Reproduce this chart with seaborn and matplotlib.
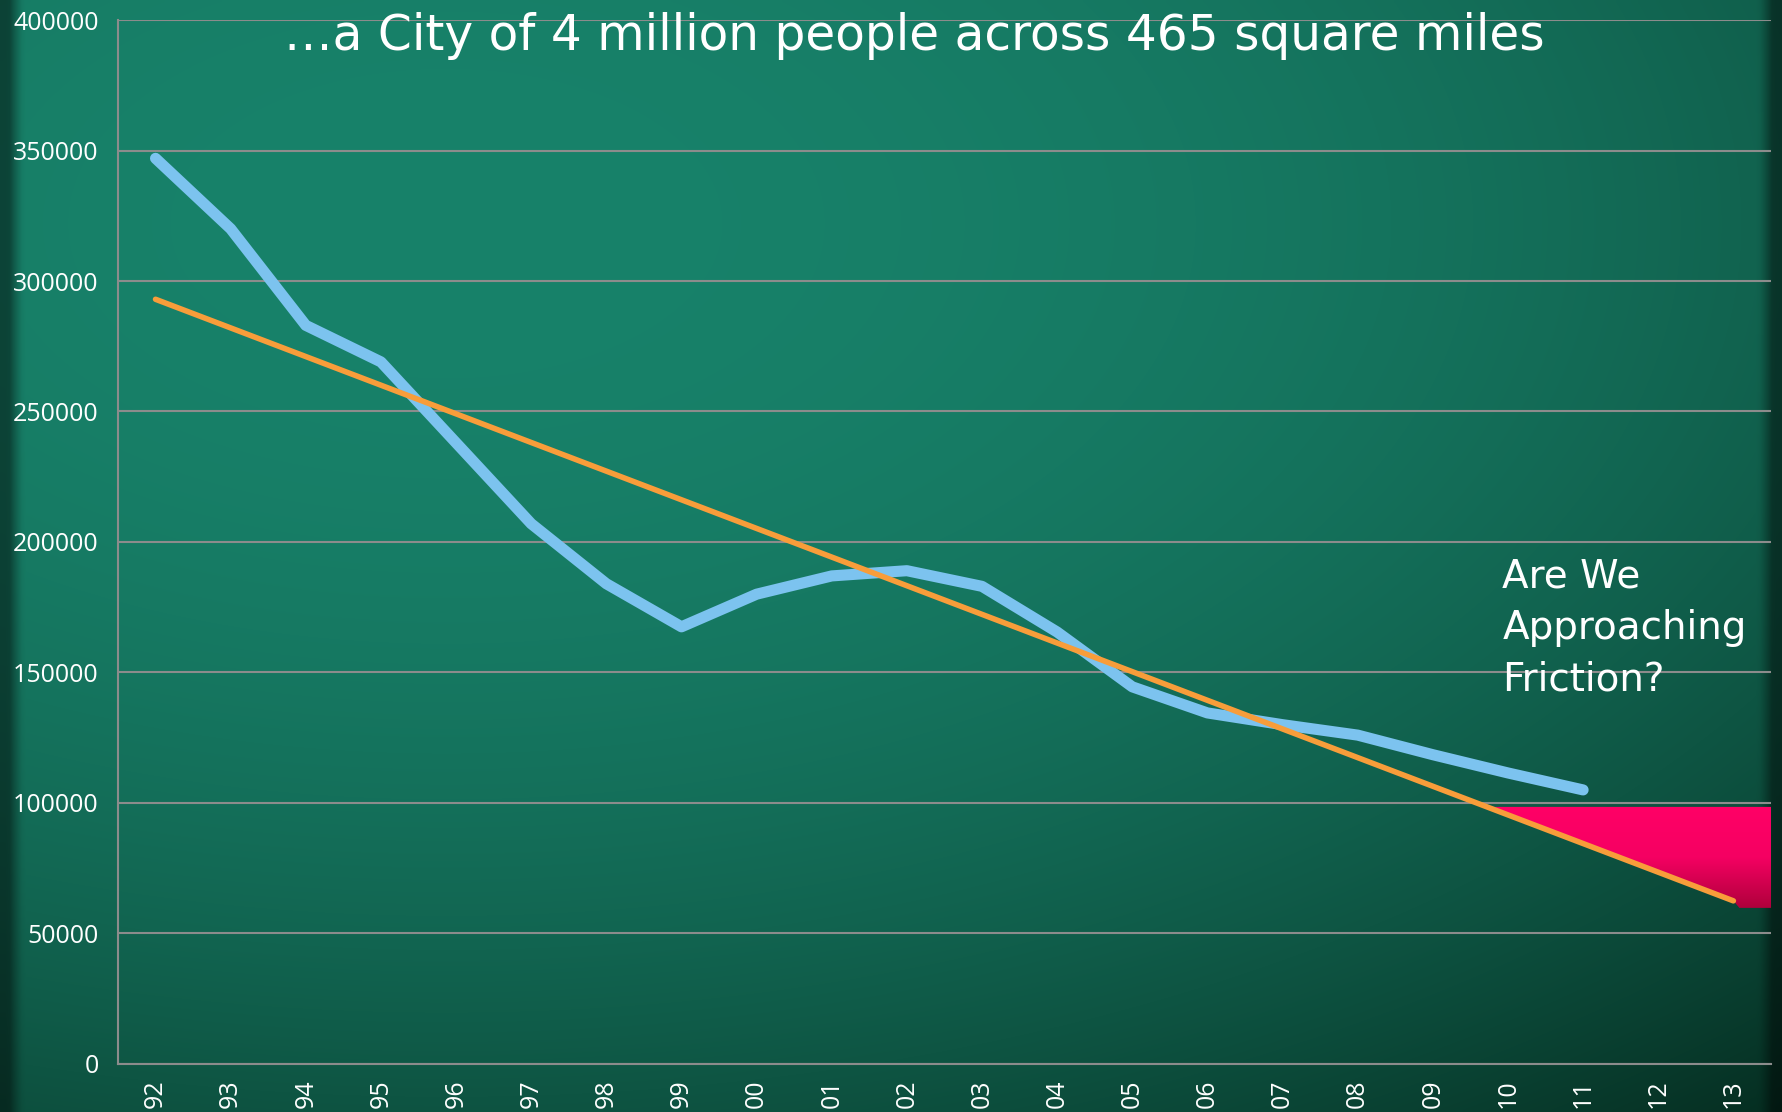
import numpy as np
import pandas as pd
import matplotlib
matplotlib.use("Agg")
import matplotlib.pyplot as plt
from matplotlib.patches import Polygon
from matplotlib.colors import LinearSegmentedColormap
import seaborn as sns

# ── Data ──────────────────────────────────────────────────────
years = ["92", "93", "94", "95", "96", "97", "98", "99", "00", "01", "02",
         "03", "04", "05", "06", "07", "08", "09", "10", "11", "12", "13"]
values = [347000, 320000, 283000, 269000, 238000, 207000, 184000, 167500,
          180000, 187000, 189000, 183000, 165500, 144500, 134500, 130000,
          126000, 118500, 111500, 105000]
trend_years = ["92", "13"]
trend_values = [293000, 62500]
yticks = [0, 50000, 100000, 150000, 200000, 250000, 300000, 350000, 400000]

red_top = 98500      # shaded "friction" wedge
red_bottom = 59800
red_right = 21.55

title = "…a City of 4 million people across 465 square miles"
note = "Are We\nApproaching\nFriction?"

BLUE = "#7cc3ef"
ORANGE = "#f89d3a"
GRID = "#8c8c8c"

# ── Figure + background ───────────────────────────────────────
sns.set_style("white")
plt.rcParams["font.family"] = ["Open Sans", "DejaVu Sans"]

fig = plt.figure(figsize=(17.82, 11.12), dpi=100)

bg_ax = fig.add_axes([0, 0, 1, 1], zorder=0)
h, w = 278, 446
u, v = np.meshgrid(np.linspace(0, 1, w), np.linspace(0, 1, h))
d = np.sqrt((u - 0.25) ** 2 + ((v - 0.2) / 0.9) ** 2)
t = (np.clip(d, 0, 1.2) / 1.2) ** 2.2
light = np.array([0x18, 0x82, 0x6a]) / 255
dark = np.array([0x04, 0x28, 0x1c]) / 255
img = light * (1 - t[..., None]) + dark * t[..., None]
edge = np.ones_like(u)
edge *= np.clip(u / 0.012, 0.35, 1) ** 0.6
edge *= np.clip((1 - u) / 0.012, 0.35, 1) ** 0.6
img = img * edge[..., None]
bg_ax.imshow(img, aspect="auto", extent=[0, 1, 0, 1], interpolation="bilinear")
bg_ax.axis("off")

ax = fig.add_axes([0.0662, 0.0432, 0.9276, 0.9388], zorder=1)
ax.set_facecolor("none")

x = np.arange(len(years))
df = pd.DataFrame({"x": x[:len(values)], "value": values})
tdf = pd.DataFrame({"x": [years.index(y) for y in trend_years], "value": trend_values})

sns.lineplot(data=df, x="x", y="value", ax=ax, color=BLUE, linewidth=8,
             solid_capstyle="round", solid_joinstyle="round", zorder=3)

# red wedge under the trend line
x0, x1 = tdf["x"]
y0, y1 = trend_values
x_cross = x0 + (red_top - y0) / (y1 - y0) * (x1 - x0)
wedge = Polygon([(x_cross, red_top), (red_right, red_top), (red_right, red_bottom),
                 (x1 + 0.08, red_bottom), (x1, y1)], closed=True,
                facecolor="none", edgecolor="none")
ax.add_patch(wedge)
red_cmap = LinearSegmentedColormap.from_list("red", ["#ff0066", "#f50062", "#b0003c"])
grad = np.linspace(0, 1, 100)[:, None] * np.ones((1, 10))
im = ax.imshow(grad, cmap=red_cmap, aspect="auto", zorder=2,
               extent=[x_cross, red_right, red_bottom, red_top], origin="upper")
im.set_clip_path(wedge)
im.set_clip_on(True)

sns.lineplot(data=tdf, x="x", y="value", ax=ax, color=ORANGE, linewidth=4,
             solid_capstyle="round", zorder=4)

# ── Axes styling ──────────────────────────────────────────────
ax.set_xlim(-0.5, len(years) - 0.5)
ax.set_ylim(0, 400000)
ax.set_yticks(yticks)
ax.set_yticklabels([str(t) for t in yticks])
ax.set_xticks(x)
ax.set_xticklabels(years, rotation=90)
ax.set_xticks(np.arange(-0.5, len(years)), minor=True)
ax.tick_params(axis="x", which="major", length=0, pad=11, labelsize=18, colors="white")
ax.tick_params(axis="x", which="minor", length=9, width=1.5, color=GRID)
ax.tick_params(axis="y", which="major", length=9, width=1.5, color=GRID,
               labelsize=18, labelcolor="white", pad=5)
ax.set_xlabel("")
ax.set_ylabel("")
ax.yaxis.grid(True, color=GRID, linewidth=1.5)
ax.set_axisbelow(True)
for side in ["top", "right"]:
    ax.spines[side].set_visible(False)
for side in ["left", "bottom"]:
    ax.spines[side].set_color(GRID)
    ax.spines[side].set_linewidth(1.5)

fig.text(0.513, 0.968, title, ha="center", va="center", color="white",
         fontsize=35, family=["DejaVu Sans"], zorder=5)
fig.text(0.843, 0.499, note, ha="left", va="top", color="white",
         fontsize=28, family=["DejaVu Sans"], linespacing=1.45, zorder=5)

plt.savefig("out.png", dpi=100)
plt.close()
